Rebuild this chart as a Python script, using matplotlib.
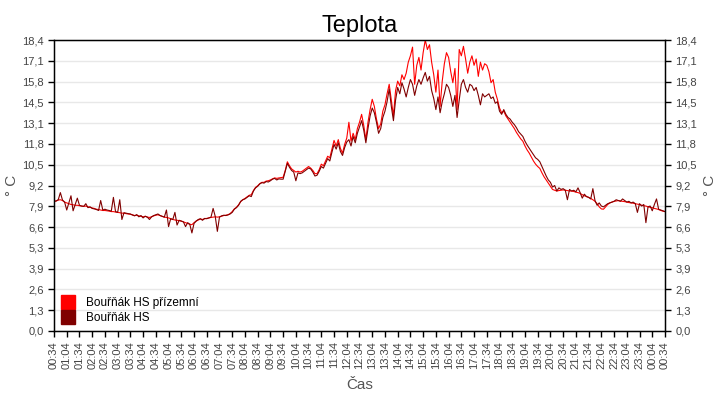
import numpy as np
import pandas as pd
import matplotlib
matplotlib.use("Agg")
import matplotlib.pyplot as plt
import matplotlib.dates as mdates
from matplotlib.lines import Line2D
from matplotlib.ticker import FuncFormatter

plt.rcParams['font.family'] = ['Liberation Sans', 'DejaVu Sans']

# 5-minute samples, 00:34 -> 00:34 next day
start_time = "2020-01-01 00:34"
sample_step = "5min"

# Bouřňák HS (dark red)
hs = [
    8.20, 8.22, 8.30, 8.75, 8.28, 8.15, 7.65, 8.10, 8.55, 7.60, 8.00, 8.40,
    7.95, 7.90, 7.88, 8.05, 7.80, 7.85, 7.75, 7.72, 7.68, 7.62, 8.25, 7.65,
    7.70, 7.65, 7.62, 7.58, 8.45, 7.55, 7.50, 8.30, 7.05, 7.48, 7.45, 7.42,
    7.40, 7.33, 7.28, 7.36, 7.22, 7.30, 7.15, 7.26, 7.20, 7.05, 7.22, 7.30,
    7.35, 7.40, 7.30, 7.25, 7.20, 7.65, 6.60, 7.10, 7.05, 7.50, 6.70, 7.00,
    6.95, 6.90, 6.60, 6.85, 6.75, 6.20, 6.80, 6.95, 7.05, 7.10, 7.00, 7.12,
    7.10, 7.15, 7.20, 7.75, 7.25, 6.30, 7.20, 7.28, 7.32, 7.30, 7.34, 7.40,
    7.50, 7.70, 7.80, 7.95, 8.20, 8.30, 8.35, 8.45, 8.55, 8.50, 8.85, 9.05,
    9.15, 9.30, 9.38, 9.35, 9.45, 9.42, 9.50, 9.60, 9.65, 9.55, 9.62, 9.60,
    9.60, 10.10, 10.60, 10.35, 10.15, 10.05, 9.50, 10.00, 9.95, 10.00, 10.10, 10.20,
    10.30, 10.25, 10.05, 9.80, 9.85, 10.10, 10.40, 10.30, 10.60, 10.90, 10.75, 11.30,
    11.80, 11.50, 11.90, 11.35, 11.10, 11.60, 11.95, 12.10, 11.70, 12.30, 11.90, 12.50,
    12.90, 13.30, 12.70, 11.90, 12.80, 13.60, 14.10, 13.80, 13.20, 12.50, 12.80, 13.50,
    13.90, 14.50, 15.30, 14.20, 13.30, 14.60, 15.40, 15.00, 15.70, 15.30, 14.80, 15.40,
    15.90, 15.60, 14.90, 15.50, 15.90, 15.60, 16.00, 16.35, 15.80, 16.10, 15.20, 14.70,
    14.00, 14.80, 13.80, 14.50, 15.00, 15.60, 15.40, 14.90, 14.20, 14.90, 13.50, 14.60,
    15.60, 15.90, 15.40, 15.10, 15.60, 15.50, 15.20, 15.40, 14.90, 14.30, 15.00, 14.80,
    14.90, 15.00, 14.70, 14.80, 14.40, 14.50, 13.90, 13.70, 14.00, 13.70, 13.50, 13.40,
    13.20, 13.05, 12.85, 12.60, 12.45, 12.30, 12.00, 11.76, 11.55, 11.35, 11.15, 10.95,
    10.85, 10.70, 10.40, 10.10, 9.80, 9.55, 9.40, 9.10, 9.20, 8.85, 9.05, 8.95,
    9.00, 8.90, 8.30, 8.95, 8.85, 8.90, 8.80, 9.05, 8.75, 8.40, 8.65, 8.50,
    8.45, 8.35, 9.00, 8.25, 7.95, 8.10, 7.90, 7.85, 7.95, 8.05, 8.10, 8.15,
    8.20, 8.30, 8.25, 8.20, 8.35, 8.25, 8.15, 8.20, 8.10, 8.15, 8.05, 7.50,
    8.05, 7.90, 8.00, 6.85, 7.85, 7.90, 7.60, 8.00, 8.35, 7.70, 7.65, 7.60,
    7.55,
]

# Bouřňák HS přízemní (red)
hs_prizemni = [
    8.20, 8.22, 8.28, 8.30, 8.25, 8.15, 8.10, 8.05, 8.00, 7.98, 7.95, 7.95,
    7.92, 7.90, 7.88, 7.90, 7.85, 7.82, 7.78, 7.75, 7.70, 7.68, 7.65, 7.62,
    7.62, 7.60, 7.58, 7.55, 7.55, 7.52, 7.50, 7.48, 7.45, 7.45, 7.42, 7.40,
    7.38, 7.35, 7.30, 7.32, 7.28, 7.25, 7.22, 7.25, 7.20, 7.18, 7.22, 7.28,
    7.32, 7.35, 7.30, 7.25, 7.20, 7.18, 7.15, 7.10, 7.05, 7.02, 7.00, 6.98,
    6.95, 6.90, 6.85, 6.80, 6.75, 6.72, 6.85, 6.95, 7.02, 7.08, 7.05, 7.10,
    7.12, 7.15, 7.18, 7.20, 7.22, 7.20, 7.22, 7.26, 7.30, 7.32, 7.35, 7.42,
    7.55, 7.72, 7.82, 7.98, 8.18, 8.30, 8.38, 8.48, 8.58, 8.62, 8.88, 9.08,
    9.18, 9.32, 9.40, 9.40, 9.48, 9.50, 9.55, 9.62, 9.68, 9.65, 9.68, 9.70,
    9.72, 10.15, 10.70, 10.45, 10.25, 10.15, 10.05, 10.10, 10.05, 10.10, 10.20, 10.30,
    10.40, 10.30, 10.15, 9.95, 9.95, 10.20, 10.55, 10.45, 10.75, 11.05, 10.95, 11.50,
    12.05, 11.70, 12.10, 11.55, 11.25, 11.80, 12.20, 13.20, 12.00, 12.50, 12.10, 12.80,
    13.20, 13.70, 13.00, 12.10, 13.20, 14.00, 14.65, 14.20, 13.40, 12.80, 13.10, 13.90,
    14.30, 15.00, 15.60, 14.60, 13.60, 15.20, 15.80, 15.50, 16.20, 15.90, 16.30, 17.00,
    17.40, 17.95, 15.60, 16.80, 17.30, 16.50, 17.60, 18.40, 17.80, 18.10, 17.00, 16.20,
    15.10, 16.50, 14.20, 15.80, 16.90, 17.60, 17.30, 16.40, 15.70, 16.60, 14.00, 17.80,
    17.40, 18.00, 17.20, 16.30, 17.00, 17.40, 16.80, 17.20, 16.10, 17.00, 16.50, 16.90,
    16.80, 16.40, 15.70, 15.90, 15.10, 14.65, 14.10, 13.80, 13.90, 13.60, 13.40, 13.20,
    13.00, 12.80, 12.55, 12.35, 12.15, 12.00, 11.70, 11.45, 11.25, 11.00, 10.75, 10.55,
    10.40, 10.28, 10.00, 9.75, 9.55, 9.35, 9.15, 8.95, 8.90, 8.85, 8.88, 8.90,
    8.92, 8.90, 8.88, 8.85, 8.85, 8.82, 8.78, 8.75, 8.70, 8.62, 8.55, 8.50,
    8.45, 8.38, 8.30, 8.20, 8.05, 7.85, 7.72, 7.70, 7.85, 8.00, 8.10, 8.15,
    8.20, 8.22, 8.25, 8.22, 8.20, 8.18, 8.15, 8.12, 8.10, 8.08, 8.05, 8.02,
    8.00, 7.95, 7.92, 7.90, 7.85, 7.82, 7.80, 7.75, 7.72, 7.68, 7.62, 7.58,
    7.55,
]

series_names = ["Bouřňák HS přízemní", "Bouřňák HS"]
series_colors = ["#ff0000", "#800000"]
y_max = 18.4

times = pd.date_range(start_time, periods=len(hs), freq=sample_step)

fig = plt.figure(figsize=(7.2, 4.0), dpi=100)
ax = fig.add_axes([0.075, 0.1725, 0.8486, 0.7275])

ax.plot(times, hs_prizemni, color=series_colors[0], lw=0.8)
ax.plot(times, hs, color=series_colors[1], lw=0.8)

ax.set_xlim(times[0], times[-1])
ax.set_ylim(0, y_max)

yticks = np.linspace(0, y_max, 15)
fmt = FuncFormatter(lambda v, p: f"{v:.1f}".replace(".", ","))
ax.set_yticks(yticks)
ax.yaxis.set_major_formatter(fmt)
ax.grid(axis="y", color="#e8e8e8", lw=1)
ax.set_axisbelow(True)

ax.xaxis.set_major_locator(mdates.MinuteLocator(byminute=[4, 34]))
ax.xaxis.set_major_formatter(mdates.DateFormatter("%H:%M"))
ax.tick_params(axis="x", rotation=90)

ax.tick_params(labelsize=8, labelcolor="#444444", length=4, width=1, color="black")
for s in ax.spines.values():
    s.set_color("black")
    s.set_linewidth(1)

ax2 = ax.twinx()
ax2.set_ylim(0, y_max)
ax2.set_yticks(yticks)
ax2.yaxis.set_major_formatter(fmt)
ax2.tick_params(labelsize=8, labelcolor="#444444", length=4, width=1, color="black")

ax.set_ylabel("° C", fontsize=11, color="#555555", labelpad=2)
ax2.set_ylabel("° C", fontsize=11, color="#555555", labelpad=4)
ax.set_xlabel("Čas", fontsize=11, color="#555555", labelpad=6)
ax.set_title("Teplota", fontsize=17, color="black", pad=6)

handles = [Line2D([], [], ls="none", marker="s", markersize=10,
                  markerfacecolor=c, markeredgecolor=c) for c in series_colors]
ax.legend(handles, series_names, loc="lower left", frameon=False, fontsize=8.5,
          handletextpad=0.9, labelspacing=0.25, borderaxespad=0.2,
          handlelength=1.2)

fig.savefig("out.png", dpi=100)
